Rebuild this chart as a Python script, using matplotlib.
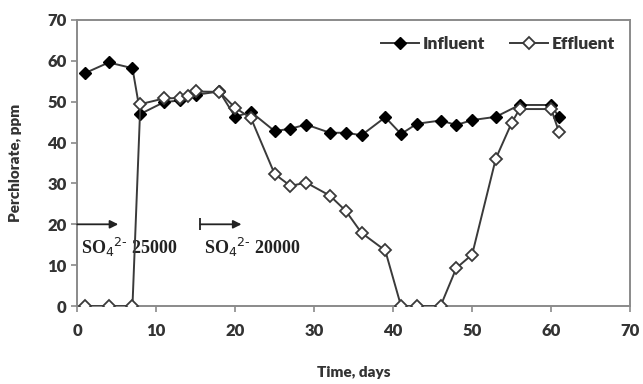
import matplotlib.pyplot as plt

plt.rcParams['font.family'] = ['Lato', 'DejaVu Sans']

# influent perchlorate, ppm
inf_days = [1, 4, 7, 8, 11, 13, 15, 18, 20, 22, 25, 27, 29, 32, 34, 36, 39, 41, 43, 46, 48, 50, 53, 56, 60, 61]
inf_ppm = [57, 59.6, 58.2, 47, 49.9, 50.3, 51.7, 52.5, 46.3, 47.5, 42.8, 43.4, 44.4, 42.4, 42.4, 41.8,
           46.2, 42.1, 44.6, 45.4, 44.3, 45.5, 46.3, 49.2, 49.2, 46.2]

# effluent perchlorate, ppm
eff_days = [1, 4, 7, 8, 11, 13, 14, 15, 18, 20, 22, 25, 27, 29, 32, 34, 36, 39, 41, 43, 46, 48, 50, 53,
            55, 56, 60, 61]
eff_ppm = [0, 0, 0, 49.4, 50.8, 50.9, 51.4, 52.5, 52.4, 48.5, 46, 32.3, 29.4, 30.2, 27, 23.3, 17.9, 13.6,
           0, 0, 0, 9.3, 12.6, 36.1, 44.8, 48.2, 48.2, 42.6]

xticks = [0, 10, 20, 30, 40, 50, 60, 70]
yticks = [0, 10, 20, 30, 40, 50, 60, 70]

fig = plt.figure(figsize=(6.43, 3.84), dpi=100)
ax = fig.add_axes([0.12, 0.203, 0.86, 0.745])

lc = '#3a3a3a'
ax.plot(inf_days, inf_ppm, '-D', color=lc, lw=1.4, ms=6.5, mfc='black', mec='black', label='Influent',
        zorder=3)
ax.plot(eff_days, eff_ppm, '-D', color=lc, lw=1.4, ms=6.5, mfc='white', mec=lc, mew=1.3, label='Effluent',
        zorder=4)

ax.set_xlim(0, 70)
ax.set_ylim(0, 70)
ax.set_xticks(xticks)
ax.set_yticks(yticks)
for s in ax.spines.values():
    s.set_color('#8a8a8a')
    s.set_linewidth(1.4)
ax.tick_params(direction='out', length=4, color='#8a8a8a', width=1.2, labelsize=12, labelcolor='#333333')
ax.tick_params(axis='x', pad=8)
for t in ax.get_xticklabels() + ax.get_yticklabels():
    t.set_fontweight('heavy')

ax.set_xlabel('Time, days', fontsize=11, fontweight='heavy', color='#333333', labelpad=20)
ax.set_ylabel('Perchlorate, ppm', fontsize=11, fontweight='heavy', color='#333333', labelpad=18)

# sulfate dosing annotations
ax.annotate('', xy=(5.2, 20), xytext=(0, 20),
            arrowprops=dict(arrowstyle='-|>', color='#222222', lw=1.3, mutation_scale=12,
                            shrinkA=0, shrinkB=0))
ax.annotate('', xy=(20.8, 20), xytext=(15.6, 20),
            arrowprops=dict(arrowstyle='-|>', color='#222222', lw=1.3, mutation_scale=12,
                            shrinkA=0, shrinkB=0))
ax.plot([15.6], [20], marker='|', ms=8, mew=1.3, color='#222222')
ax.text(0.5, 14.4, r'SO$_4$$^{2\text{-}}$ 25000', family='Liberation Serif', fontweight='bold',
        fontsize=13, color='#222222', va='center')
ax.text(16.0, 14.4, r'SO$_4$$^{2\text{-}}$ 20000', family='Liberation Serif', fontweight='bold',
        fontsize=13, color='#222222', va='center')

leg = ax.legend(loc='upper right', ncol=2, frameon=False, fontsize=12.5, bbox_to_anchor=(1.0, 1.0),
                handlelength=2.2, columnspacing=1.4, handletextpad=0.2, borderaxespad=0.5)
for t in leg.get_texts():
    t.set_fontweight('heavy')
    t.set_color('#333333')

fig.savefig('out.png', dpi=100)
